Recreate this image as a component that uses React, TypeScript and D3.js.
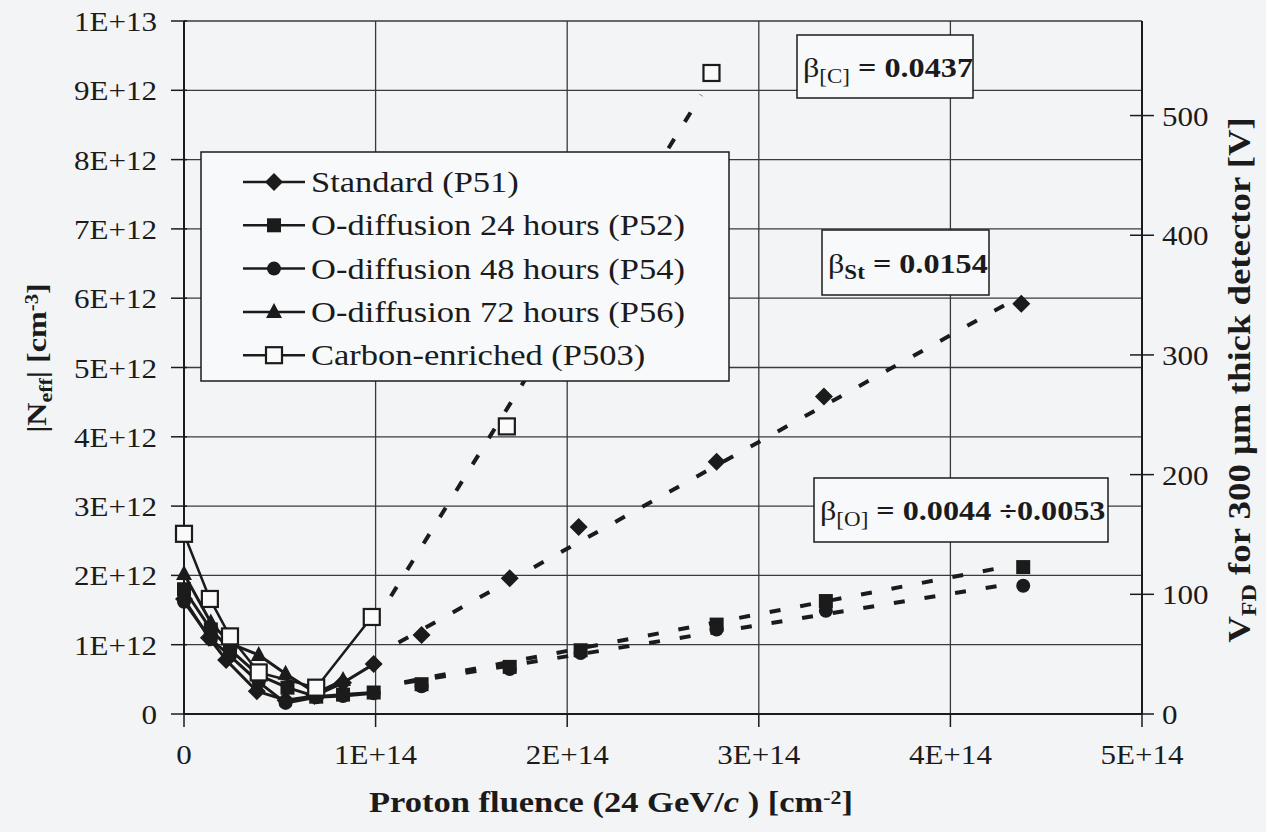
import { useEffect, useRef } from 'react';
import * as d3 from 'd3';

// fluence in units of 1E+14 cm^-2, |Neff| in units of 1E+12 cm^-3
const stdFluence = [0, 0.13, 0.22, 0.38, 0.53, 0.68, 0.83, 0.99, 1.24, 1.70, 2.06, 2.78, 3.34, 4.37];
const stdNeff = [1.66, 1.10, 0.78, 0.33, 0.20, 0.26, 0.45, 0.72, 1.14, 1.96, 2.70, 3.64, 4.58, 5.92];

const o24Fluence = [0, 0.14, 0.24, 0.39, 0.54, 0.69, 0.83, 0.99, 1.24, 1.70, 2.07, 2.78, 3.35, 4.38];
const o24Neff = [1.80, 1.22, 0.93, 0.56, 0.38, 0.25, 0.28, 0.31, 0.43, 0.68, 0.92, 1.29, 1.63, 2.12];

const o48Fluence = [0, 0.14, 0.24, 0.39, 0.53, 0.69, 0.83, 0.99, 1.24, 1.70, 2.07, 2.78, 3.35, 4.38];
const o48Neff = [1.62, 1.08, 0.84, 0.46, 0.16, 0.24, 0.26, 0.30, 0.40, 0.65, 0.88, 1.22, 1.49, 1.85];

const o72Fluence = [0, 0.14, 0.24, 0.39, 0.53, 0.69, 0.83];
const o72Neff = [2.02, 1.32, 1.02, 0.85, 0.58, 0.30, 0.49];

const carbonFluence = [0, 0.135, 0.24, 0.39, 0.69, 0.98, 1.685, 2.753];
const carbonNeff = [2.60, 1.66, 1.12, 0.60, 0.38, 1.40, 4.15, 9.25];

// dashed linear fits (start / end points)
const carbonFitFluence = [1.08, 2.70];
const carbonFitNeff = [1.70, 8.93];
const stdFitFluence = [1.12, 4.36];
const stdFitNeff = [1.03, 6.02];
const o24FitFluence = [1.15, 4.30];
const o24FitNeff = [0.46, 2.13];
const o48FitFluence = [1.15, 4.30];
const o48FitNeff = [0.45, 1.87];

const legendLabels = [
  'Standard (P51)',
  'O-diffusion 24 hours (P52)',
  'O-diffusion 48 hours (P54)',
  'O-diffusion 72 hours (P56)',
  'Carbon-enriched (P503)',
];

const xTicks = [0, 1e14, 2e14, 3e14, 4e14, 5e14];
const xTickLabels = ['0', '1E+14', '2E+14', '3E+14', '4E+14', '5E+14'];
const yTicks = d3.range(0, 11).map(i => i * 1e12);
const yTickLabels = ['0', '1E+12', '2E+12', '3E+12', '4E+12', '5E+12', '6E+12', '7E+12', '8E+12', '9E+12', '1E+13'];
const vTicks = [0, 100, 200, 300, 400, 500];

const INK = '#1b1b1b';
const FONT = '"Liberation Serif", "Times New Roman", serif';
const SX = 1.15; // scanned figure text is a bit wide

type Part = { t: string; sub?: boolean; sup?: boolean; bold?: boolean; italic?: boolean; size?: number };

const App = () => {
  const ref = useRef<SVGSVGElement | null>(null);

  useEffect(() => {
    if (!ref.current) return;
    const svg = d3.select(ref.current);
    svg.selectAll('*').remove();

    const x = d3.scaleLinear().domain([0, 5e14]).range([184, 1142]);
    const y = d3.scaleLinear().domain([0, 1e13]).range([714, 21]);
    const yV = d3.scaleLinear().domain([0, 579]).range([714, 21]);

    svg.append('rect').attr('width', 1266).attr('height', 832).attr('fill', '#f3f4f6');

    // text helper
    const txt = (
      parent: d3.Selection<any, unknown, null, undefined>,
      px: number, py: number, parts: Part[], size: number,
      anchor = 'start', bold = false, rotate = 0,
    ) => {
      const g = parent.append('g')
        .attr('transform', `translate(${px},${py}) rotate(${rotate}) scale(${SX},1)`);
      const t = g.append('text')
        .attr('text-anchor', anchor)
        .style('font-family', FONT)
        .style('font-size', `${size}px`)
        .style('font-weight', bold ? 'bold' : 'normal')
        .attr('fill', INK);
      parts.forEach(p => {
        const s = t.append('tspan').text(p.t);
        if (p.size) s.style('font-size', `${p.size}px`);
        if (p.bold !== undefined) s.style('font-weight', p.bold ? 'bold' : 'normal');
        if (p.italic) s.style('font-style', 'italic');
        if (p.sub) s.attr('baseline-shift', '-30%');
        if (p.sup) s.attr('baseline-shift', '45%');
      });
      return t;
    };

    const plot = svg.append('g');

    // grid
    plot.selectAll('line.hgrid').data(yTicks.slice(1)).enter().append('line')
      .attr('x1', x(0)).attr('x2', x(5e14))
      .attr('y1', d => y(d)).attr('y2', d => y(d))
      .attr('stroke', '#3a3a3a').attr('stroke-width', 1.3);
    plot.selectAll('line.vgrid').data(xTicks.slice(1)).enter().append('line')
      .attr('x1', d => x(d)).attr('x2', d => x(d))
      .attr('y1', y(0)).attr('y2', y(1e13))
      .attr('stroke', '#3a3a3a').attr('stroke-width', 1.3);

    // axes lines
    plot.append('line').attr('x1', x(0)).attr('x2', x(0)).attr('y1', y(0)).attr('y2', y(1e13))
      .attr('stroke', INK).attr('stroke-width', 2);
    plot.append('line').attr('x1', x(0)).attr('x2', x(5e14)).attr('y1', y(0)).attr('y2', y(0))
      .attr('stroke', INK).attr('stroke-width', 2.2);
    plot.append('line').attr('x1', x(5e14)).attr('x2', x(5e14)).attr('y1', y(0)).attr('y2', y(1e13))
      .attr('stroke', INK).attr('stroke-width', 2);

    // ticks
    plot.selectAll('line.ytick').data(yTicks).enter().append('line')
      .attr('x1', x(0) - 13).attr('x2', x(0) + 3)
      .attr('y1', d => y(d)).attr('y2', d => y(d))
      .attr('stroke', INK).attr('stroke-width', 1.5);
    plot.selectAll('line.xtick').data(xTicks).enter().append('line')
      .attr('x1', d => x(d)).attr('x2', d => x(d))
      .attr('y1', y(0)).attr('y2', y(0) + 13)
      .attr('stroke', INK).attr('stroke-width', 1.5);
    plot.selectAll('line.vtick').data(vTicks).enter().append('line')
      .attr('x1', x(5e14) - 12).attr('x2', x(5e14) + 12)
      .attr('y1', d => yV(d)).attr('y2', d => yV(d))
      .attr('stroke', INK).attr('stroke-width', 1.5);

    yTicks.forEach((d, i) => txt(svg, 157, y(d) + 10, [{ t: yTickLabels[i] }], 27, 'end'));
    xTicks.forEach((d, i) => txt(svg, x(d), 764, [{ t: xTickLabels[i] }], 27, 'middle'));
    vTicks.forEach(d => txt(svg, 1162, yV(d) + 10, [{ t: String(d) }], 27, 'start'));

    // fits
    const lineGen = d3.line<[number, number]>().x(d => x(d[0] * 1e14)).y(d => y(d[1] * 1e12));
    const fits: [number[], number[]][] = [
      [carbonFitFluence, carbonFitNeff],
      [stdFitFluence, stdFitNeff],
      [o24FitFluence, o24FitNeff],
      [o48FitFluence, o48FitNeff],
    ];
    fits.forEach(([fx, fy]) => {
      plot.append('path')
        .attr('d', lineGen(fx.map((v, i) => [v, fy[i]] as [number, number])))
        .attr('fill', 'none').attr('stroke', INK).attr('stroke-width', 4)
        .attr('stroke-dasharray', '11,20');
    });

    // markers
    const marker = (g: d3.Selection<any, unknown, null, undefined>, kind: string, cx: number, cy: number) => {
      if (kind === 'diamond') {
        const r = 9;
        g.append('path').attr('d', `M${cx},${cy - r}L${cx + r},${cy}L${cx},${cy + r}L${cx - r},${cy}Z`).attr('fill', INK);
      } else if (kind === 'square') {
        g.append('rect').attr('x', cx - 7).attr('y', cy - 7).attr('width', 14).attr('height', 14).attr('fill', INK);
      } else if (kind === 'circle') {
        g.append('circle').attr('cx', cx).attr('cy', cy).attr('r', 7).attr('fill', INK);
      } else if (kind === 'triangle') {
        g.append('path').attr('d', `M${cx},${cy - 9}L${cx + 8},${cy + 6}L${cx - 8},${cy + 6}Z`).attr('fill', INK);
      } else {
        g.append('rect').attr('x', cx - 8).attr('y', cy - 8).attr('width', 16).attr('height', 16)
          .attr('fill', '#fafafa').attr('stroke', INK).attr('stroke-width', 2.2);
      }
    };

    const series: [number[], number[], string, number][] = [
      [stdFluence, stdNeff, 'diamond', 3],
      [o24Fluence, o24Neff, 'square', 3],
      [o48Fluence, o48Neff, 'circle', 3],
      [o72Fluence, o72Neff, 'triangle', 3],
      [carbonFluence, carbonNeff, 'open', 2.5],
    ];
    series.forEach(([fx, fy, , w]) => {
      const pts = fx.map((v, i) => [v, fy[i]] as [number, number]);
      const solid = pts.filter(p => p[0] <= 1.0);
      plot.append('path').attr('d', lineGen(solid)).attr('fill', 'none')
        .attr('stroke', INK).attr('stroke-width', w).attr('stroke-linejoin', 'round');
    });
    series.forEach(([fx, fy, kind]) => {
      fx.forEach((v, i) => marker(plot, kind, x(v * 1e14), y(fy[i] * 1e12)));
    });

    // legend
    const leg = svg.append('g');
    leg.append('rect').attr('x', 201).attr('y', 152).attr('width', 528).attr('height', 229)
      .attr('fill', '#f8f9fa').attr('stroke', INK).attr('stroke-width', 1.5);
    const kinds = ['diamond', 'square', 'circle', 'triangle', 'open'];
    legendLabels.forEach((label, i) => {
      const ly = 182 + i * 43.3;
      leg.append('line').attr('x1', 243).attr('x2', 305).attr('y1', ly).attr('y2', ly)
        .attr('stroke', INK).attr('stroke-width', 2.5);
      marker(leg, kinds[i], 274, ly);
      txt(leg, 311, ly + 10, [{ t: label }], 30, 'start');
    });

    // beta annotation boxes
    const box = (bx: number, by: number, bw: number, bh: number, parts: Part[]) => {
      svg.append('rect').attr('x', bx).attr('y', by).attr('width', bw).attr('height', bh)
        .attr('fill', '#f8f9fa').attr('stroke', INK).attr('stroke-width', 1.5);
      txt(svg, bx + 6, by + bh / 2 + 10, parts, 28, 'start');
    };
    box(797, 35, 176, 63, [{ t: 'β' }, { t: '[C]', sub: true, size: 20 }, { t: ' = 0.0437', bold: true }]);
    box(822, 230, 167, 65, [{ t: 'β' }, { t: 'St', sub: true, size: 20, bold: true }, { t: ' = 0.0154', bold: true }]);
    box(814, 478, 294, 64, [{ t: 'β' }, { t: '[O]', sub: true, size: 20 }, { t: ' = 0.0044 ÷0.0053', bold: true }]);

    // axis titles
    txt(svg, 611, 812, [
      { t: 'Proton fluence (24 GeV/' }, { t: 'c', italic: true }, { t: ' ) [cm' },
      { t: '-2', sup: true, size: 19 }, { t: ']' },
    ], 30, 'middle', true);
    txt(svg, 46, 358, [
      { t: '|N' }, { t: 'eff', sub: true, size: 19 }, { t: '| [cm' },
      { t: '-3', sup: true, size: 18 }, { t: ']' },
    ], 28, 'middle', true, -90);
    txt(svg, 1250, 380, [
      { t: 'V' }, { t: 'FD', sub: true, size: 21 }, { t: ' for 300 μm thick detector [V]' },
    ], 32, 'middle', true, -90);
  }, []);

  return (
    <svg ref={ref} width={1266} height={832}
      style={{ position: 'absolute', left: 0, top: 0, display: 'block' }} />
  );
};

export default App;
